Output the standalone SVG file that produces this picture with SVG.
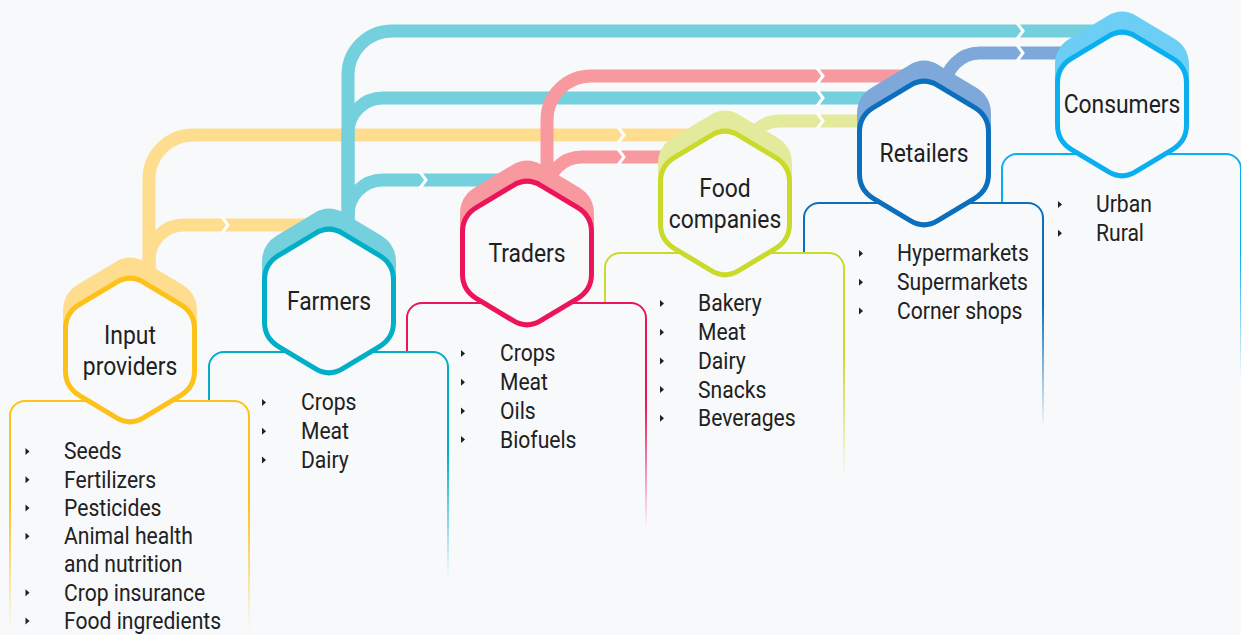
<svg xmlns="http://www.w3.org/2000/svg" xmlns:xlink="http://www.w3.org/1999/xlink" width="1241" height="635" viewBox="0 0 1241 635">
<style>
.lane{fill:none;stroke-width:13;stroke-linecap:butt}
.chev{fill:none;stroke:#ffffff;stroke-width:3;stroke-linejoin:miter}
.box{fill:#F8F9FB;stroke-width:2}
.hexs{stroke-width:5}
.hexm{fill:#F8F9FB;stroke-width:5}
.lbl{font-family:Roboto,"Liberation Sans",sans-serif;font-size:26px;fill:#212121;text-anchor:middle}
.itm{font-family:Roboto,"Liberation Sans",sans-serif;font-size:24px;fill:#212121}
.bul{fill:#212121}
</style>
<defs>
<path id="hex" d="M13.7,-67.7 L50.8,-45.3 Q64.5,-37 64.5,-21 L64.5,21 Q64.5,37 50.8,45.3 L13.7,67.7 Q0,76 -13.7,67.7 L-50.8,45.3 Q-64.5,37 -64.5,21 L-64.5,-21 Q-64.5,-37 -50.8,-45.3 L-13.7,-67.7 Q0,-76 13.7,-67.7 Z"/>
<path id="chev" d="M-3,-8 L3,0 L-3,8"/>
<path id="bul" d="M0,-3.5 L4,0 L0,3.5 Z"/>
<linearGradient id="gY" x1="0" y1="0" x2="0" y2="1"><stop offset="0" stop-color="#FDC21A"/><stop offset="0.45" stop-color="#FDC21A"/><stop offset="1" stop-color="#FDC21A" stop-opacity="0"/></linearGradient>
<linearGradient id="gT" x1="0" y1="0" x2="0" y2="1"><stop offset="0" stop-color="#00AEC7"/><stop offset="0.45" stop-color="#00AEC7"/><stop offset="1" stop-color="#00AEC7" stop-opacity="0"/></linearGradient>
<linearGradient id="gP" x1="0" y1="0" x2="0" y2="1"><stop offset="0" stop-color="#EC1559"/><stop offset="0.45" stop-color="#EC1559"/><stop offset="1" stop-color="#EC1559" stop-opacity="0"/></linearGradient>
<linearGradient id="gL" x1="0" y1="0" x2="0" y2="1"><stop offset="0" stop-color="#C9DA2B"/><stop offset="0.45" stop-color="#C9DA2B"/><stop offset="1" stop-color="#C9DA2B" stop-opacity="0"/></linearGradient>
<linearGradient id="gB" x1="0" y1="0" x2="0" y2="1"><stop offset="0" stop-color="#0B6FBE"/><stop offset="0.45" stop-color="#0B6FBE"/><stop offset="1" stop-color="#0B6FBE" stop-opacity="0"/></linearGradient>
<linearGradient id="gC" x1="0" y1="0" x2="0" y2="1"><stop offset="0" stop-color="#0AAFEF"/><stop offset="0.45" stop-color="#0AAFEF"/><stop offset="1" stop-color="#0AAFEF" stop-opacity="0"/></linearGradient>
</defs>
<rect x="0" y="0" width="1241" height="635" fill="#F8F9FB"/>

<g id="connectors">
<path class="lane" stroke="#FFDD8F" d="M149,300 V260 A35,35 0 0 1 184,225 H320"/>
<path class="lane" stroke="#FFDD8F" d="M149,300 V179 A44,44 0 0 1 193,135 H700"/>
<path class="lane" stroke="#75D0DE" d="M348,250 V215 A35,35 0 0 1 383,180 H510"/>
<path class="lane" stroke="#75D0DE" d="M348,250 V133 A35,35 0 0 1 383,98 H880"/>
<path class="lane" stroke="#75D0DE" d="M348,250 V75 A44,44 0 0 1 392,31 H1110"/>
<path class="lane" stroke="#F7999F" d="M547,200 V192 A35,35 0 0 1 582,157 H700"/>
<path class="lane" stroke="#F7999F" d="M547,200 V120 A44,44 0 0 1 591,76 H910"/>
<path class="lane" stroke="#E3EA9B" d="M745,160 V156 A35,35 0 0 1 780,121 H880"/>
<path class="lane" stroke="#7EA8D9" d="M945,110 V88 A35,35 0 0 1 980,53 H1110"/>
<use href="#chev" class="chev" x="225" y="225"/>
<use href="#chev" class="chev" x="423" y="180"/>
<use href="#chev" class="chev" x="621" y="135"/>
<use href="#chev" class="chev" x="621" y="157"/>
<use href="#chev" class="chev" x="820" y="76"/>
<use href="#chev" class="chev" x="820" y="98"/>
<use href="#chev" class="chev" x="820" y="121"/>
<use href="#chev" class="chev" x="1020" y="31"/>
<use href="#chev" class="chev" x="1020" y="53"/>
</g>

<g id="consumers">
<path class="box" stroke="url(#gC)" d="M1002,379 V169 A15,15 0 0 1 1017,154 H1226 A15,15 0 0 1 1241,169 V379"/>
<use href="#hex" class="hexs" x="1122" y="86" fill="#6CCEF5" stroke="#6CCEF5"/>
<use href="#hex" class="hexm" x="1122" y="104" stroke="#0AAFEF"/>
<g transform="translate(1122 0) scale(0.88 1)"><text class="lbl" x="0" y="113">Consumers</text></g>
<use href="#bul" class="bul" x="1058" y="204.5"/>
<use href="#bul" class="bul" x="1058" y="233.2"/>
<g transform="translate(1096 0) scale(0.88 1)">
<text class="itm" x="0" y="212.5">Urban</text>
<text class="itm" x="0" y="241.2">Rural</text>
</g>
</g>

<g id="retailers">
<path class="box" stroke="url(#gB)" d="M804,428 V218 A15,15 0 0 1 819,203 H1028 A15,15 0 0 1 1043,218 V428"/>
<use href="#hex" class="hexs" x="924" y="135" fill="#7EA8D9" stroke="#7EA8D9"/>
<use href="#hex" class="hexm" x="924" y="153" stroke="#0B6FBE"/>
<g transform="translate(924 0) scale(0.88 1)"><text class="lbl" x="0" y="162">Retailers</text></g>
<use href="#bul" class="bul" x="859" y="253.5"/>
<use href="#bul" class="bul" x="859" y="282.2"/>
<use href="#bul" class="bul" x="859" y="310.9"/>
<g transform="translate(897 0) scale(0.88 1)">
<text class="itm" x="0" y="261.5">Hypermarkets</text>
<text class="itm" x="0" y="290.2">Supermarkets</text>
<text class="itm" x="0" y="318.9">Corner shops</text>
</g>
</g>

<g id="food-companies">
<path class="box" stroke="url(#gL)" d="M605,478 V268 A15,15 0 0 1 620,253 H829 A15,15 0 0 1 844,268 V478"/>
<use href="#hex" class="hexs" x="725" y="185" fill="#E3EA9B" stroke="#E3EA9B"/>
<use href="#hex" class="hexm" x="725" y="203" stroke="#C9DA2B"/>
<g transform="translate(725 0) scale(0.88 1)">
<text class="lbl" x="0" y="197">Food</text>
<text class="lbl" x="0" y="228">companies</text>
</g>
<use href="#bul" class="bul" x="660" y="303.5"/>
<use href="#bul" class="bul" x="660" y="332.2"/>
<use href="#bul" class="bul" x="660" y="360.9"/>
<use href="#bul" class="bul" x="660" y="389.6"/>
<use href="#bul" class="bul" x="660" y="418.3"/>
<g transform="translate(698 0) scale(0.88 1)">
<text class="itm" x="0" y="311.5">Bakery</text>
<text class="itm" x="0" y="340.2">Meat</text>
<text class="itm" x="0" y="368.9">Dairy</text>
<text class="itm" x="0" y="397.6">Snacks</text>
<text class="itm" x="0" y="426.3">Beverages</text>
</g>
</g>

<g id="traders">
<path class="box" stroke="url(#gP)" d="M407,528 V318 A15,15 0 0 1 422,303 H631 A15,15 0 0 1 646,318 V528"/>
<use href="#hex" class="hexs" x="527" y="235" fill="#F7999F" stroke="#F7999F"/>
<use href="#hex" class="hexm" x="527" y="253" stroke="#EC1559"/>
<g transform="translate(527 0) scale(0.88 1)"><text class="lbl" x="0" y="262">Traders</text></g>
<use href="#bul" class="bul" x="461" y="353.5"/>
<use href="#bul" class="bul" x="461" y="382.2"/>
<use href="#bul" class="bul" x="461" y="410.9"/>
<use href="#bul" class="bul" x="461" y="439.6"/>
<g transform="translate(500 0) scale(0.88 1)">
<text class="itm" x="0" y="361.5">Crops</text>
<text class="itm" x="0" y="390.2">Meat</text>
<text class="itm" x="0" y="418.9">Oils</text>
<text class="itm" x="0" y="447.6">Biofuels</text>
</g>
</g>

<g id="farmers">
<path class="box" stroke="url(#gT)" d="M209,577 V367 A15,15 0 0 1 224,352 H433 A15,15 0 0 1 448,367 V577"/>
<use href="#hex" class="hexs" x="329" y="283" fill="#75D0DE" stroke="#75D0DE"/>
<use href="#hex" class="hexm" x="329" y="301" stroke="#00AEC7"/>
<g transform="translate(329 0) scale(0.88 1)"><text class="lbl" x="0" y="310">Farmers</text></g>
<use href="#bul" class="bul" x="262" y="402.5"/>
<use href="#bul" class="bul" x="262" y="431.2"/>
<use href="#bul" class="bul" x="262" y="459.9"/>
<g transform="translate(301 0) scale(0.88 1)">
<text class="itm" x="0" y="410.5">Crops</text>
<text class="itm" x="0" y="439.2">Meat</text>
<text class="itm" x="0" y="467.9">Dairy</text>
</g>
</g>

<g id="input-providers">
<path class="box" stroke="url(#gY)" d="M10,631 V416 A15,15 0 0 1 25,401 H234 A15,15 0 0 1 249,416 V631"/>
<use href="#hex" class="hexs" x="130" y="332" fill="#FFDD8F" stroke="#FFDD8F"/>
<use href="#hex" class="hexm" x="130" y="350" stroke="#FDC21A"/>
<g transform="translate(130 0) scale(0.88 1)">
<text class="lbl" x="0" y="344">Input</text>
<text class="lbl" x="0" y="375">providers</text>
</g>
<use href="#bul" class="bul" x="25.5" y="451.5"/>
<use href="#bul" class="bul" x="25.5" y="479.8"/>
<use href="#bul" class="bul" x="25.5" y="508"/>
<use href="#bul" class="bul" x="25.5" y="536.3"/>
<use href="#bul" class="bul" x="25.5" y="592.8"/>
<use href="#bul" class="bul" x="25.5" y="621"/>
<g transform="translate(64 0) scale(0.88 1)">
<text class="itm" x="0" y="459.5">Seeds</text>
<text class="itm" x="0" y="487.8">Fertilizers</text>
<text class="itm" x="0" y="516">Pesticides</text>
<text class="itm" x="0" y="544.3">Animal health</text>
<text class="itm" x="0" y="572.5">and nutrition</text>
<text class="itm" x="0" y="600.8">Crop insurance</text>
<text class="itm" x="0" y="629">Food ingredients</text>
</g>
</g>
</svg>
